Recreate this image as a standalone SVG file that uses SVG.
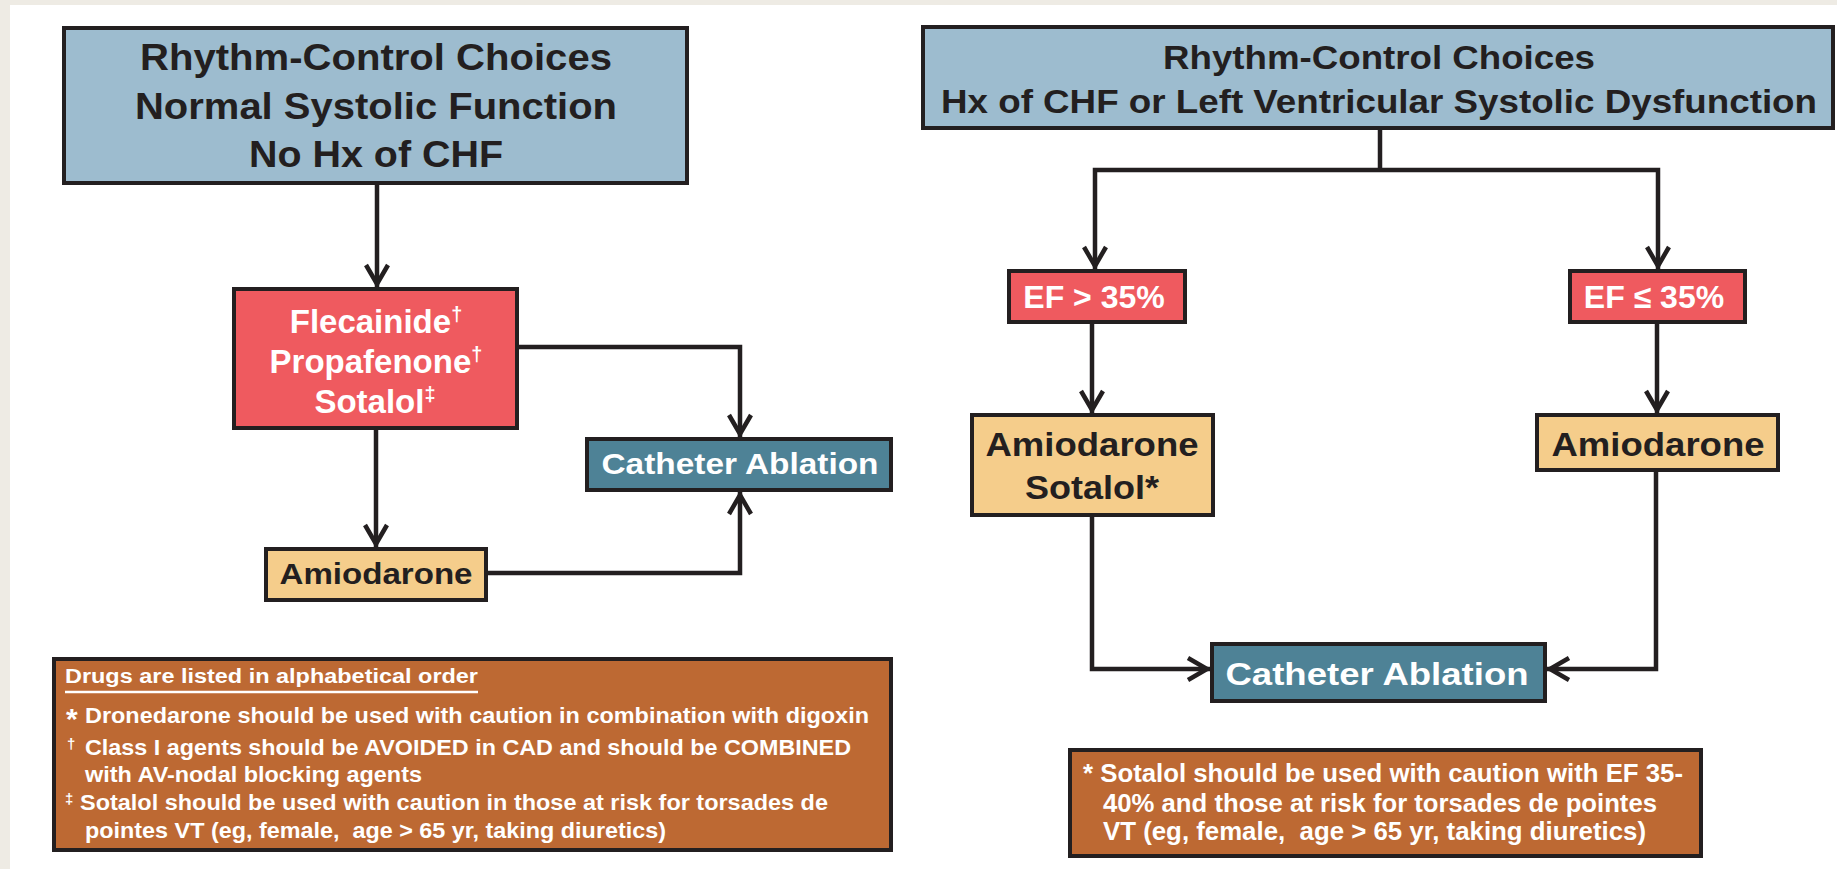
<svg xmlns="http://www.w3.org/2000/svg" width="1837" height="869" viewBox="0 0 1837 869">
<style>
text{font-family:"Liberation Sans",Arial,Helvetica,sans-serif;font-weight:bold;}
.dk{fill:#231f20;}
.wt{fill:#ffffff;}
.box{stroke:#231f20;stroke-width:4;}
.blue{fill:#9dbccf;}
.red{fill:#ef5a5f;}
.tan{fill:#f5cd8b;}
.teal{fill:#4e8296;}
.note{fill:#bd6933;}
.conn{fill:none;stroke:#231f20;stroke-width:4.5;}
</style>
<defs>
<marker id="arr" markerUnits="userSpaceOnUse" viewBox="0 0 26 26" markerWidth="26" markerHeight="26" refX="23" refY="13" orient="auto" overflow="visible">
<path d="M1,2 L20,13 L1,24" fill="none" stroke="#231f20" stroke-width="4.5"/>
</marker>
</defs>
<rect x="0" y="0" width="1837" height="869" fill="#eeebe4"/>
<rect x="10" y="5" width="1827" height="864" fill="#ffffff"/>

<g id="connectors">
<path class="conn" d="M377,185 V287" marker-end="url(#arr)"/>
<path class="conn" d="M376,430 V547" marker-end="url(#arr)"/>
<path class="conn" d="M519,347 H740 V437" marker-end="url(#arr)"/>
<path class="conn" d="M488,573 H740 V492" marker-end="url(#arr)"/>
<path class="conn" d="M1380,130 V170"/>
<path class="conn" d="M1380,170 H1095 V269" marker-end="url(#arr)"/>
<path class="conn" d="M1380,170 H1658 V269" marker-end="url(#arr)"/>
<path class="conn" d="M1092,324 V413" marker-end="url(#arr)"/>
<path class="conn" d="M1657,324 V413" marker-end="url(#arr)"/>
<path class="conn" d="M1092,517 V669 H1210" marker-end="url(#arr)"/>
<path class="conn" d="M1656,472 V669 H1547" marker-end="url(#arr)"/>
</g>

<g id="title-left">
<rect class="box blue" x="64" y="28" width="623" height="155"/>
<text class="dk" x="376" y="70" font-size="36" text-anchor="middle" textLength="472" lengthAdjust="spacingAndGlyphs">Rhythm-Control Choices</text>
<text class="dk" x="376" y="119" font-size="36" text-anchor="middle" textLength="482" lengthAdjust="spacingAndGlyphs">Normal Systolic Function</text>
<text class="dk" x="376" y="167" font-size="36" text-anchor="middle" textLength="254" lengthAdjust="spacingAndGlyphs">No Hx of CHF</text>
</g>

<g id="drugs-class1">
<rect class="box red" x="234" y="289" width="283" height="139"/>
<text class="wt" x="376" y="333" font-size="33" text-anchor="middle">Flecainide<tspan font-size="20" dy="-12">†</tspan></text>
<text class="wt" x="376" y="373" font-size="33" text-anchor="middle">Propafenone<tspan font-size="20" dy="-12">†</tspan></text>
<text class="wt" x="375" y="413" font-size="33" text-anchor="middle">Sotalol<tspan font-size="20" dy="-12">‡</tspan></text>
</g>

<g id="amiodarone-left">
<rect class="box tan" x="266" y="549" width="220" height="51"/>
<text class="dk" x="376" y="584" font-size="30" text-anchor="middle" textLength="193" lengthAdjust="spacingAndGlyphs">Amiodarone</text>
</g>

<g id="catheter-left">
<rect class="box teal" x="587" y="439" width="304" height="51"/>
<text class="wt" x="740" y="474" font-size="30" text-anchor="middle" textLength="277" lengthAdjust="spacingAndGlyphs">Catheter Ablation</text>
</g>

<g id="notes-left">
<rect class="box note" x="54" y="659" width="837" height="191"/>
<text class="wt" x="65" y="683" font-size="20" textLength="413" lengthAdjust="spacingAndGlyphs">Drugs are listed in alphabetical order</text>
<line x1="65" y1="692" x2="478" y2="692" stroke="#ffffff" stroke-width="2.5"/>
<text class="wt" x="66" y="729" font-size="30">*</text>
<text class="wt" x="85" y="723" font-size="21.5" textLength="784" lengthAdjust="spacingAndGlyphs">Dronedarone should be used with caution in combination with digoxin</text>
<text class="wt" x="67" y="749" font-size="15">†</text>
<text class="wt" x="85" y="755" font-size="21.5" textLength="766" lengthAdjust="spacingAndGlyphs">Class I agents should be AVOIDED in CAD and should be COMBINED</text>
<text class="wt" x="85" y="782" font-size="21.5" textLength="337" lengthAdjust="spacingAndGlyphs">with AV-nodal blocking agents</text>
<text class="wt" x="65" y="804" font-size="15">‡</text>
<text class="wt" x="80" y="810" font-size="21.5" textLength="748" lengthAdjust="spacingAndGlyphs">Sotalol should be used with caution in those at risk for torsades de</text>
<text class="wt" x="85" y="838" font-size="21.5" textLength="581" lengthAdjust="spacingAndGlyphs" style="white-space:pre">pointes VT (eg, female,  age &gt; 65 yr, taking diuretics)</text>
</g>

<g id="title-right">
<rect class="box blue" x="923" y="27" width="910" height="101"/>
<text class="dk" x="1379" y="69" font-size="34" text-anchor="middle" textLength="432" lengthAdjust="spacingAndGlyphs">Rhythm-Control Choices</text>
<text class="dk" x="1379" y="113" font-size="34" text-anchor="middle" textLength="876" lengthAdjust="spacingAndGlyphs">Hx of CHF or Left Ventricular Systolic Dysfunction</text>
</g>

<g id="ef-gt-35">
<rect class="box red" x="1009" y="271" width="176" height="51"/>
<text class="wt" x="1094" y="308" font-size="32" text-anchor="middle">EF &gt; 35%</text>
</g>

<g id="ef-le-35">
<rect class="box red" x="1570" y="271" width="175" height="51"/>
<text class="wt" x="1654" y="308" font-size="32" text-anchor="middle">EF ≤ 35%</text>
</g>

<g id="amio-sotalol">
<rect class="box tan" x="972" y="415" width="241" height="100"/>
<text class="dk" x="1092" y="456" font-size="33" text-anchor="middle" textLength="213" lengthAdjust="spacingAndGlyphs">Amiodarone</text>
<text class="dk" x="1092" y="499" font-size="33" text-anchor="middle" textLength="134" lengthAdjust="spacingAndGlyphs">Sotalol*</text>
</g>

<g id="amiodarone-right">
<rect class="box tan" x="1537" y="415" width="241" height="55"/>
<text class="dk" x="1658" y="456" font-size="33" text-anchor="middle" textLength="213" lengthAdjust="spacingAndGlyphs">Amiodarone</text>
</g>

<g id="catheter-right">
<rect class="box teal" x="1212" y="644" width="333" height="57"/>
<text class="wt" x="1377" y="685" font-size="32" text-anchor="middle" textLength="303" lengthAdjust="spacingAndGlyphs">Catheter Ablation</text>
</g>

<g id="notes-right">
<rect class="box note" x="1070" y="750" width="631" height="106"/>
<text class="wt" x="1083" y="782" font-size="26" textLength="600" lengthAdjust="spacingAndGlyphs">* Sotalol should be used with caution with EF 35-</text>
<text class="wt" x="1103" y="812" font-size="26" textLength="554" lengthAdjust="spacingAndGlyphs">40% and those at risk for torsades de pointes</text>
<text class="wt" x="1103" y="840" font-size="26" textLength="543" lengthAdjust="spacingAndGlyphs" style="white-space:pre">VT (eg, female,  age &gt; 65 yr, taking diuretics)</text>
</g>
</svg>
